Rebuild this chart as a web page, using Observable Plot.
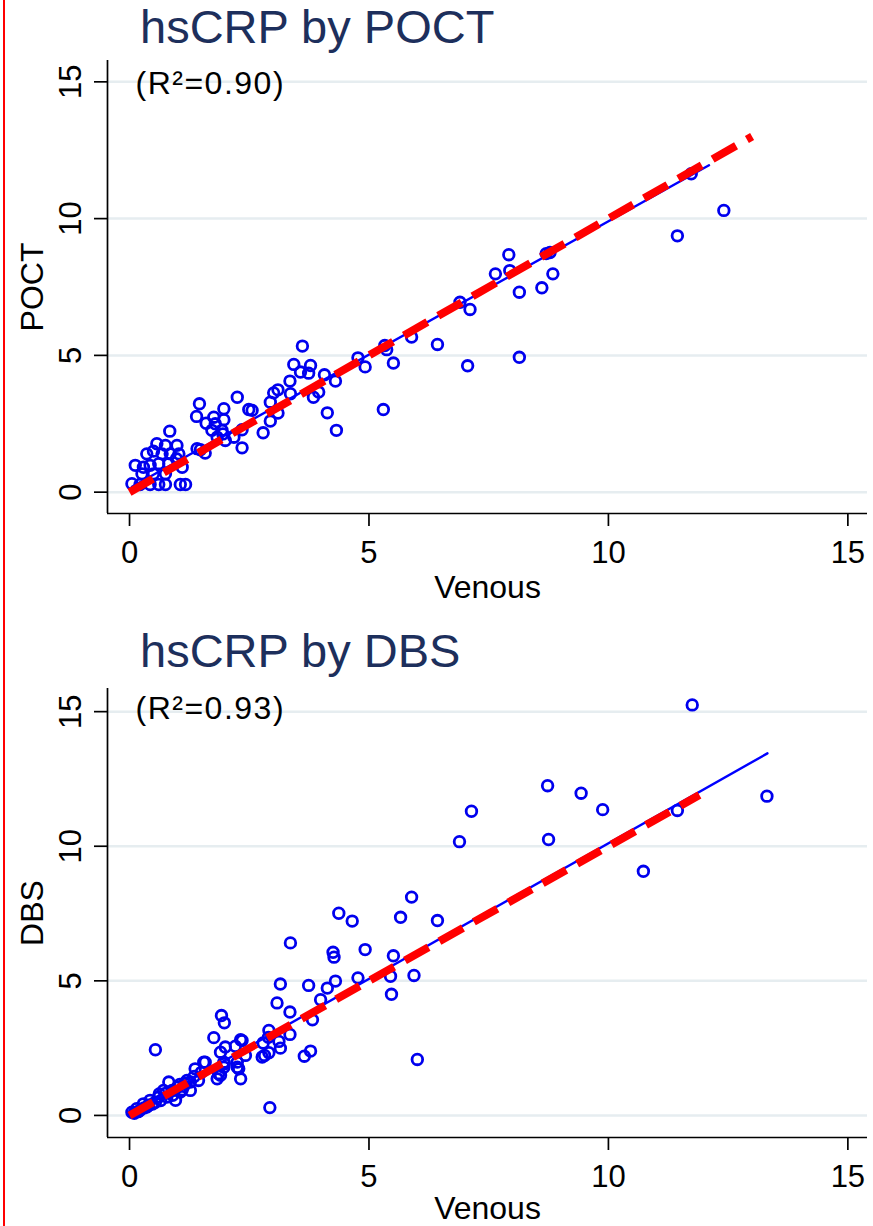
<!DOCTYPE html>
<html>
<head>
<meta charset="utf-8">
<script src="https://cdn.jsdelivr.net/npm/d3@7"></script>
<script src="https://cdn.jsdelivr.net/npm/@observablehq/plot@0.6"></script>
<style>
  body { margin: 0; background: #fff; }
  #wrap { position: relative; width: 873px; height: 1226px; overflow: hidden; background: #fff;
          font-family: "Liberation Sans", Arial, sans-serif; }
  .panel { position: absolute; left: 0; }
  .title { position: absolute; left: 140px; font-size: 47px; line-height: 47px; color: #1d2f5c; white-space: nowrap; }
  #redline { position: absolute; left: 3px; top: 0; width: 2px; height: 1226px; background: #ff0000; }
</style>
</head>
<body>
<div id="wrap">
  <div class="panel" id="p1" style="top:50px"></div>
  <div class="panel" id="p2" style="top:680px"></div>
  <div class="title" style="top:3px">hsCRP by POCT</div>
  <div class="title" style="top:627px">hsCRP by DBS</div>
  <div id="redline"></div>
</div>
<script>
// ---------- data ----------
const xTicks = [0, 5, 10, 15];
const yTicks = [0, 5, 10, 15];
const xDomain = [-0.46, 15.41];

// Panel 1: Venous vs POCT
const poctVenous = [12.41, 11.73, 11.44, 7.92, 7.64, 7.94, 8.70, 8.78, 8.84, 8.14, 8.61, 6.90, 7.11, 6.43, 7.06, 8.14,
  5.89, 5.33, 5.37, 5.51, 5.30, 4.77, 4.92,
  3.61, 3.43, 3.78, 3.57, 3.74, 4.07, 4.30, 3.35, 3.10, 3.01, 3.36, 2.94, 3.95, 3.84, 2.56, 3.10, 2.94, 2.79, 4.13, 4.32,
  2.25, 2.49, 2.35, 2.35, 2.18, 1.97, 1.97, 1.76, 1.46, 1.40, 1.60, 1.72, 1.79, 1.93, 1.83, 2.00, 1.95, 1.48, 1.58, 1.41,
  0.84, 0.57, 0.75, 0.99, 0.36, 0.50, 0.68, 0.85, 1.03, 0.12, 0.29, 0.43, 0.61, 0.82, 1.10, 0.26, 0.50, 0.75,
  0.05, 0.22, 0.43, 0.61, 0.75, 1.06, 1.17, 0.98];
const poctValues = [10.30, 11.64, 9.37, 8.68, 7.98, 8.10, 8.72, 8.76, 7.98, 7.31, 7.47, 6.94, 6.68, 5.40, 4.62, 4.93,
  5.67, 5.36, 5.21, 4.72, 3.02, 4.91, 4.58,
  5.34, 4.67, 4.63, 4.39, 4.35, 4.29, 4.06, 4.06, 3.74, 3.63, 3.60, 3.29, 3.66, 3.47, 2.99, 2.89, 2.60, 2.17, 2.90, 2.26,
  3.47, 3.02, 2.28, 1.62, 2.01, 3.05, 2.65, 2.74, 3.23, 2.77, 2.52, 2.26, 2.50, 2.26, 2.01, 1.89, 2.13, 1.55, 1.43, 1.59,
  2.23, 1.77, 1.71, 1.71, 1.40, 1.50, 1.40, 1.40, 1.40, 0.98, 0.91, 0.98, 1.04, 1.04, 0.91, 0.67, 0.67, 0.67,
  0.31, 0.28, 0.28, 0.28, 0.28, 0.28, 0.28, 1.22];
const poctFitX = [0.05, 12.1];
const poctFitY = [0.2, 11.95];
const poctIdentityX = [0, 13];
const poctIdentityY = [0, 13];
const poctDomainY = [-0.78, 15.78];

// Panel 2: Venous vs DBS
const dbsVenous = [11.75, 13.31, 11.44, 10.73, 8.73, 9.43, 9.88, 8.75, 7.14, 6.89, 5.89, 5.66, 6.43, 5.51, 5.45, 5.94,
  4.37, 4.65, 3.36, 4.25, 4.27, 4.92, 5.47, 6.01, 4.77, 4.30, 4.13, 3.99, 3.74, 3.15, 3.08, 3.35, 3.82, 3.35, 3.78, 3.65,
  1.92, 1.98, 1.76, 2.35, 2.91, 2.90, 2.79, 3.12, 3.15, 2.82, 2.91, 2.32, 2.42, 2.21, 1.90, 2.00, 2.25, 1.97, 1.58, 1.86, 1.97, 2.28,
  0.54, 2.93, 2.32, 2.25, 1.98, 1.90, 1.83, 1.55, 1.37, 1.44, 1.27, 1.13, 1.27, 0.96, 0.82, 0.71, 0.61, 0.43, 0.29, 0.15, 0.05,
  0.22, 0.36, 0.54, 0.78, 1.06, 0.89, 1.20, 2.77, 0.10, 0.18, 0.30, 0.40, 0.48, 0.65, 0.75, 0.90, 1.00, 1.10, 1.15, 1.35, 1.50, 0.62, 1.05];
const dbsValues = [15.25, 11.86, 11.33, 9.07, 12.25, 11.97, 11.36, 10.25, 11.30, 10.17, 8.11, 7.36, 7.24, 5.93, 5.17, 5.20,
  7.51, 7.22, 6.41, 6.06, 5.88, 6.16, 4.50, 2.08, 5.11, 4.99, 4.73, 4.30, 4.83, 4.88, 4.18, 3.84, 3.55, 3.01, 2.39, 2.20,
  3.71, 3.44, 2.89, 2.78, 3.16, 2.90, 2.69, 2.75, 2.50, 2.23, 2.33, 1.36, 2.23, 2.57, 2.35, 2.54, 1.98, 1.98, 1.98, 1.55, 1.79, 1.73,
  2.44, 0.29, 2.81, 1.79, 1.92, 1.49, 1.36, 1.98, 1.73, 1.30, 1.24, 1.08, 0.93, 0.56, 1.24, 0.93, 0.68, 0.56, 0.43, 0.25, 0.12,
  0.19, 0.31, 0.49, 0.68, 0.87, 0.93, 1.30, 2.17, 0.08, 0.14, 0.28, 0.38, 0.42, 0.55, 0.82, 0.75, 1.05, 0.95, 1.20, 1.45, 1.60, 0.80, 1.15];
const dbsFitX = [0.02, 13.32];
const dbsFitY = [0.06, 13.45];
const dbsIdentityX = [0, 11.9];
const dbsIdentityY = [0, 11.9];
const dbsDomainY = [-0.82, 15.86];

// ---------- drawing ----------
const FONT = "'Liberation Sans', Arial, sans-serif";
function panel({venous, values, fitX, fitY, idX, idY, yDomain, yLabel, r2Text,
                height, marginTop, marginBottom, r2Dy, xLabelDy}) {
  const pts = venous.map((v, i) => ({x: v, y: values[i]}));
  const fit = fitX.map((v, i) => ({x: v, y: fitY[i]}));
  const ident = idX.map((v, i) => ({x: v, y: idY[i]}));
  const svg = Plot.plot({
    width: 873, height, marginTop, marginBottom, marginLeft: 107, marginRight: 6,
    style: {fontFamily: FONT, background: "transparent", color: "black", overflow: "visible"},
    x: {domain: xDomain},
    y: {domain: yDomain},
    marks: [
      Plot.gridY(yTicks, {stroke: "#e6edf0", strokeOpacity: 1, strokeWidth: 2.5}),
      Plot.dot(pts, {x: "x", y: "y", r: 5.3, stroke: "#0000ee", strokeWidth: 2.8, fill: "none"}),
      Plot.line(fit, {x: "x", y: "y", stroke: "#0000ff", strokeWidth: 2.4}),
      Plot.line(ident, {x: "x", y: "y", stroke: "#ff0000", strokeWidth: 8, strokeDasharray: "27,12.5", strokeLinecap: "butt"}),
      Plot.ruleY([yDomain[0]], {stroke: "black", strokeWidth: 1.7}),
      Plot.ruleX([xDomain[0]], {stroke: "black", strokeWidth: 1.7}),
      Plot.axisX(xTicks, {anchor: "bottom", tickSize: 13, tickPadding: 14, fontSize: 31, label: null, strokeWidth: 1.7}),
      Plot.axisY(yTicks, {anchor: "left", tickSize: 13, tickPadding: 14, tickRotate: -90, fontSize: 31, label: null, strokeWidth: 1.7}),
      Plot.text([yLabel], {text: d => d, frameAnchor: "left", rotate: -90, dx: -75, fontSize: 32,
                           textAnchor: "middle", lineAnchor: "middle"}),
      Plot.text(["Venous"], {text: d => d, frameAnchor: "bottom", dy: xLabelDy, fontSize: 32,
                             textAnchor: "middle", lineAnchor: "bottom"}),
      Plot.text([r2Text], {text: d => d, frameAnchor: "top-left", dx: 28, dy: r2Dy, fontSize: 32,
                           textAnchor: "start", lineAnchor: "bottom"})
    ]
  });
  d3.select(svg).selectAll("text").filter(function() { return this.textContent.startsWith("(R"); })
    .style("letter-spacing", "1.5px");
  return svg;
}

document.getElementById("p1").appendChild(panel({
  venous: poctVenous, values: poctValues, fitX: poctFitX, fitY: poctFitY,
  idX: poctIdentityX, idY: poctIdentityY, yDomain: poctDomainY,
  yLabel: "POCT", r2Text: "(R²=0.90)",
  height: 560, marginTop: 10, marginBottom: 97, r2Dy: 33, xLabelDy: 84
}));
document.getElementById("p2").appendChild(panel({
  venous: dbsVenous, values: dbsValues, fitX: dbsFitX, fitY: dbsFitY,
  idX: dbsIdentityX, idY: dbsIdentityY, yDomain: dbsDomainY,
  yLabel: "DBS", r2Text: "(R²=0.93)",
  height: 546, marginTop: 8, marginBottom: 89, r2Dy: 30, xLabelDy: 81
}));
</script>
</body>
</html>
